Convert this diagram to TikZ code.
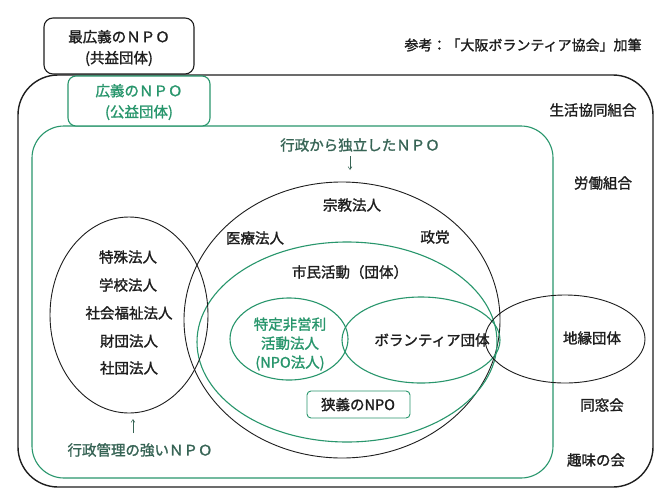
\documentclass[tikz,border=0pt]{standalone}
\usepackage{fontspec}
\setmainfont{Noto Sans CJK JP}[FakeBold=1.4]
\usetikzlibrary{arrows.meta}
\definecolor{grn}{RGB}{40,150,108}
\definecolor{dgrn}{RGB}{55,100,85}
\definecolor{ink}{RGB}{30,30,30}
\begin{document}
\begin{tikzpicture}[x=1pt,y=-1pt,
  every node/.style={font=\fontsize{14.5}{17}\selectfont, inner sep=0pt, text=ink},
  lbl/.style={align=center},
  glbl/.style={align=center, text=grn},
  dlbl/.style={text=dgrn},
  blk/.style={draw=ink, line width=0.9pt},
  gln/.style={draw=grn, line width=1.1pt},
  thinarrow/.style={draw=dgrn, line width=0.5pt, -{Straight Barb[length=3pt,width=4pt]}}
]
\useasboundingbox (0,0) rectangle (663,493);
\fill[white] (0,0) rectangle (663,493);

% outer black frame and big green frame
\draw[draw=ink, line width=1.4pt, rounded corners=40pt] (18,75) rectangle (653,487);
\draw[gln, rounded corners=32pt] (32,126) rectangle (553,478);

% title boxes
\draw[draw=ink, line width=1.1pt, fill=white, rounded corners=9pt] (44,18) rectangle (194,74);
\node[lbl] (broadest) at (119,48) {最広義のＮＰＯ\\[4pt](共益団体)};
\draw[gln, fill=white, rounded corners=8pt] (68,76) rectangle (210,126);
\node[glbl] (broad) at (139,102) {広義のＮＰＯ\\[4pt](公益団体)};

\node[font=\fontsize{14}{16}\selectfont] (ref) at (523,45) {参考：「大阪ボランティア協会」加筆};

% ellipses
\draw[blk] (342,320) ellipse [x radius=158pt, y radius=138pt];
\draw[gln] (347,342) ellipse [x radius=150pt, y radius=100pt];
\draw[gln] (289,339) ellipse [x radius=59pt, y radius=41pt];
\draw[gln] (421,340) ellipse [x radius=79pt, y radius=43pt];
\draw[blk] (129,315) ellipse [x radius=79pt, y radius=98pt];
\draw[blk] (565,339) ellipse [x radius=80pt, y radius=44pt];

% narrow NPO box
\draw[gln, line width=0.9pt, fill=white, rounded corners=4pt] (307,391) rectangle (410,418);
\node (narrow) at (358,404.5) {狭義のNPO};

% labels
\node[dlbl] (indep) at (360,145) {行政から独立したＮＰＯ};
\node[dlbl] (ctrl) at (140,450) {行政管理の強いＮＰＯ};
\coordinate (indepArrowEnd) at (350,170);
\coordinate (ctrlArrowEnd) at (133,419);
\draw[thinarrow] (350,156) -- (indepArrowEnd);
\draw[thinarrow] (133,433) -- (ctrlArrowEnd);

\node (shukyo) at (352,205) {宗教法人};
\node (iryo) at (255,238) {医療法人};
\node (seito) at (435,237) {政党};
\node (shimin) at (350,272) {市民活動（団体）};

\node (tokushu) at (128,257) {特殊法人};
\node (gakko) at (128,285) {学校法人};
\node (shakai) at (129,313) {社会福祉法人};
\node (zaidan) at (129,341) {財団法人};
\node (shadan) at (129,368) {社団法人};

\node[glbl] (npohojin) at (290,344) {特定非営利\\[2pt]活動法人\\[2pt](NPO法人)};
\node (volunteer) at (432,340) {ボランティア団体};
\node (chien) at (592,338) {地縁団体};

\node (seikyo) at (593,110) {生活協同組合};
\node (rodo) at (603,183) {労働組合};
\node (dososo) at (602,405) {同窓会};
\node (shumi) at (596,460) {趣味の会};
\end{tikzpicture}
\end{document}
